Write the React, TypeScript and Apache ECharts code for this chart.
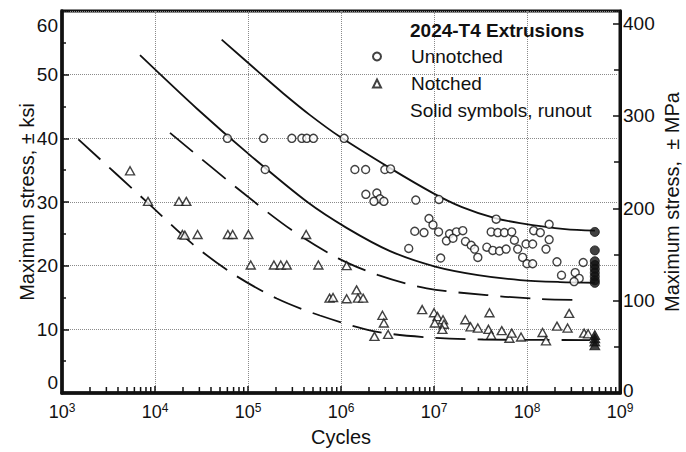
import React, { useEffect, useRef } from "react";
import * as echarts from "echarts";

// ---- data (cycles, ksi) ----
const decadeExponents = [3, 4, 5, 6, 7, 8, 9];
const minorMultipliers = [2, 3, 4, 5, 6, 7, 8, 9];

const unnotched: [number, number][] = [
  [6.0e4, 40.0], [1.47e5, 40.0], [2.96e5, 40.0], [3.79e5, 40.0], [4.29e5, 40.0], [5.05e5, 40.0], [1.08e6, 40.0],
  [1.53e5, 35.1], [1.41e6, 35.1], [1.84e6, 35.1], [2.96e6, 35.1], [3.41e6, 35.2],
  [1.85e6, 31.2], [2.43e6, 31.4], [2.62e6, 30.5], [2.26e6, 30.1], [2.89e6, 30.1],
  [6.37e6, 30.3], [1.13e7, 30.4], [8.83e6, 27.4], [9.75e6, 26.4],
  [6.21e6, 25.4], [7.81e6, 25.2], [1.12e7, 25.3], [5.35e6, 22.7], [1.18e7, 21.2],
  [1.36e7, 23.9], [1.47e7, 25.0], [1.74e7, 25.3], [2.04e7, 25.5], [1.6e7, 24.3], [2.18e7, 23.8],
  [2.51e7, 23.2], [2.73e7, 22.6], [2.96e7, 21.3],
  [4.66e7, 27.3], [4.12e7, 25.3], [4.85e7, 25.2], [5.71e7, 25.2], [6.85e7, 25.3], [7.32e7, 24.0],
  [3.7e7, 22.9], [4.29e7, 22.4], [5.06e7, 22.3], [5.96e7, 22.6], [7.94e7, 22.6],
  [8.98e7, 21.3], [1.0e8, 20.3], [1.15e8, 20.3], [9.77e7, 23.4], [1.15e8, 23.4], [1.18e8, 25.5],
  [1.39e8, 25.2], [1.73e8, 26.5], [1.73e8, 24.1], [1.6e8, 22.6],
  [2.1e8, 20.6], [2.35e8, 18.5], [3.3e8, 18.9], [3.64e8, 18.0], [3.21e8, 17.5], [4.02e8, 20.5],
];

const unnotchedRunout: [number, number][] = [
  [5.36e8, 25.3], [5.36e8, 22.4], [5.36e8, 20.7], [5.36e8, 20.1], [5.36e8, 19.5],
  [5.36e8, 18.9], [5.36e8, 18.3], [5.36e8, 17.7], [5.36e8, 17.3],
];

const notched: [number, number][] = [
  [5.39e3, 34.9], [8.41e3, 30.1], [1.81e4, 30.1], [2.17e4, 30.1],
  [1.97e4, 24.9], [2.09e4, 24.8], [2.87e4, 24.9], [6.08e4, 24.9], [6.84e4, 24.9], [1.01e5, 24.9], [4.22e5, 24.9],
  [1.07e5, 20.1], [1.9e5, 20.1], [2.25e5, 20.1], [2.61e5, 20.1], [5.71e5, 20.1], [1.15e6, 20.0],
  [7.53e5, 14.9], [8.21e5, 15.0], [1.15e6, 14.8], [1.47e6, 16.2], [1.52e6, 14.9], [1.73e6, 14.9],
  [2.79e6, 12.2], [2.89e6, 11.0], [2.29e6, 8.9], [3.21e6, 9.2],
  [7.46e6, 13.1], [1.0e7, 12.6], [1.09e7, 12.0], [1.25e7, 11.5], [1.02e7, 11.0], [1.28e7, 10.8], [1.23e7, 10.0],
  [2.17e7, 11.5], [2.47e7, 10.4], [2.96e7, 10.2], [3.95e7, 12.6], [3.85e7, 10.0], [4.12e7, 9.1],
  [5.35e7, 9.8], [6.47e7, 8.6], [6.85e7, 9.4], [8.63e7, 8.8],
  [1.47e8, 9.5], [1.6e8, 8.2], [2.1e8, 10.5], [2.73e8, 10.2], [2.84e8, 12.5], [4.11e8, 9.4], [4.54e8, 9.3],
];

const notchedRunout: [number, number][] = [
  [5.36e8, 9.1], [5.36e8, 8.6], [5.36e8, 8.1], [5.36e8, 7.5],
];

const unnotchedUpperCurve: [number, number][] = [
  [5.21e4, 55.5], [1.35e5, 50.2], [2.4e5, 47.05], [4.65e5, 43.65], [9.75e5, 40.24], [3.37e6, 35.32],
  [9.75e6, 31.4], [2.0e7, 29.2], [4.53e7, 27.47], [8.41e7, 26.69], [2.56e8, 25.75], [5.38e8, 25.5],
];

const unnotchedLowerCurve: [number, number][] = [
  [6.9e3, 53.06], [2.81e4, 44.69], [1.05e5, 37.36], [4.31e5, 30.03], [1.16e6, 25.9], [3.37e6, 22.29],
  [1.03e7, 19.86], [2.97e7, 18.52], [8.41e7, 17.74], [2.26e8, 17.43], [5.38e8, 17.32],
];

const notchedUpperCurve: [number, number][] = [
  [1.45e4, 40.86], [8.55e4, 31.6], [2.95e5, 25.59], [9.35e5, 21.15], [2.52e6, 18.52], [8.36e6, 16.44],
  [3.69e7, 15.38], [1.38e8, 14.76], [3.72e8, 14.6],
];

const notchedLowerCurve: [number, number][] = [
  [1.5e3, 39.83], [8.15e3, 30.03], [2.58e4, 23.31], [6.95e4, 18.68], [2.04e5, 14.84], [5.94e5, 12.17],
  [2.22e6, 9.73], [7.67e6, 8.79], [3.39e7, 8.4], [4.75e8, 8.32],
];

const KSI_TO_MPA = 6.894757;
const FONT = '"Liberation Sans", Arial, Helvetica, sans-serif';
const INK = "#111";

const minorTickCycles: [number, number][] = [];
decadeExponents.slice(0, -1).forEach((e) =>
  minorMultipliers.forEach((m) => minorTickCycles.push([m * Math.pow(10, e), 0]))
);

const dotted = { type: "dotted" as const, color: "#8a8a8a", width: 1 };

export default function App() {
  const ref = useRef<HTMLDivElement>(null);
  useEffect(() => {
    const chart = echarts.init(ref.current!, undefined, { renderer: "svg" });
    const option: any = {
      animation: false,
      backgroundColor: "#fff",
      textStyle: { fontFamily: FONT, color: INK },
      grid: {
        left: 62, right: 66, top: 11, bottom: 59,
        show: true, borderColor: INK, borderWidth: 3, backgroundColor: "transparent",
        containLabel: false, outerBoundsMode: "none",
      },
      title: [
        {
          text: "2024-T4 Extrusions", left: 410, top: 21, padding: 0,
          textStyle: { fontFamily: FONT, fontSize: 19, fontWeight: "bold", color: INK, lineHeight: 19 },
        },
        {
          text: "Solid symbols, runout", left: 410, top: 101, padding: 0,
          textStyle: { fontFamily: FONT, fontSize: 19, fontWeight: "normal", color: INK, lineHeight: 19 },
        },
      ],
      legend: {
        data: ["Unnotched", "Notched"],
        orient: "vertical", left: 372, top: 47, padding: 0, itemGap: 8,
        itemWidth: 8, itemHeight: 8, selectedMode: false,
        textStyle: { fontFamily: FONT, fontSize: 19, lineHeight: 19, color: INK, padding: [0, 0, 0, 25] },
      },
      xAxis: {
        type: "log", logBase: 10, min: 1e3, max: 1e9, position: "bottom",
        axisLine: { show: true, onZero: false, lineStyle: { color: INK, width: 3.5 } },
        axisTick: { show: true, inside: true, length: 7, lineStyle: { color: INK, width: 1.5 } },
        splitLine: { show: true, lineStyle: dotted },
        axisLabel: {
          margin: 9,
          formatter: (v: number) => `{b|10}{s|${Math.round(Math.log10(v))}}`,
          rich: {
            b: { fontFamily: FONT, fontSize: 18, lineHeight: 20, color: INK },
            s: { fontFamily: FONT, fontSize: 12, lineHeight: 12, color: INK, verticalAlign: "top" },
          },
        },
        name: "Cycles", nameLocation: "middle", nameGap: 34, nameMoveOverlap: false,
        nameTextStyle: { fontFamily: FONT, fontSize: 20, color: INK },
      },
      yAxis: [
        {
          type: "value", min: 0, max: 60, interval: 10, position: "left",
          axisLine: { show: true, lineStyle: { color: INK, width: 3.5 } },
          axisTick: { show: true, inside: true, length: 7, lineStyle: { color: INK, width: 1.5 } },
          minorTick: { show: true, splitNumber: 2, length: 4, lineStyle: { color: INK, width: 1.5 } },
          splitLine: { show: true, lineStyle: dotted },
          axisLabel: {
            margin: 4, fontFamily: FONT, fontSize: 19, color: INK,
            formatter: (v: number) => (v === 60 ? "{top|60}" : v === 0 ? "{bot|0}" : String(v)),
            rich: {
              top: { fontFamily: FONT, fontSize: 19, color: INK, padding: [28, 0, 0, 0] },
              bot: { fontFamily: FONT, fontSize: 19, color: INK, padding: [0, 0, 22, 0] },
            },
          },
          name: "Maximum stress, \u00b1 ksi", nameLocation: "middle", nameRotate: 90, nameGap: 25,
          nameMoveOverlap: false,
          nameTextStyle: { fontFamily: FONT, fontSize: 20, color: INK },
        },
        {
          type: "value", min: 0, max: 60 * KSI_TO_MPA, interval: 100, position: "right", alignTicks: false,
          axisLine: { show: true, lineStyle: { color: INK, width: 3 } },
          axisTick: { show: true, inside: true, length: 7, lineStyle: { color: INK, width: 1.5 } },
          minorTick: { show: true, splitNumber: 2, length: 6, lineStyle: { color: INK, width: 1.5 } },
          splitLine: { show: false },
          axisLabel: {
            margin: 3, fontFamily: FONT, fontSize: 19, color: INK,
            formatter: (v: number) =>
              Math.abs(v % 100) < 1e-6 ? (v === 0 ? "{bot|0}" : String(Math.round(v))) : "",
            rich: {
              bot: { fontFamily: FONT, fontSize: 19, color: INK, padding: [0, 0, 6, 0] },
            },
          },
          name: "Maximum stress,  \u00b1 MPa", nameLocation: "middle", nameRotate: 90, nameGap: 42,
          nameMoveOverlap: false,
          nameTextStyle: { fontFamily: FONT, fontSize: 20, color: INK },
        },
      ],
      series: [
        {
          type: "custom", name: "minor ticks", silent: true, clip: false, z: 5,
          data: minorTickCycles,
          renderItem: (_p: any, api: any) => {
            const pt = api.coord([api.value(0), 0]);
            return {
              type: "line",
              shape: { x1: pt[0], y1: pt[1], x2: pt[0], y2: pt[1] - 6 },
              style: { stroke: INK, lineWidth: 1.5 },
            };
          },
        },
        ...[
          { name: "Unnotched upper", data: unnotchedUpperCurve, dash: "solid" },
          { name: "Unnotched lower", data: unnotchedLowerCurve, dash: "solid" },
          { name: "Notched upper", data: notchedUpperCurve, dash: [30, 12] },
          { name: "Notched lower", data: notchedLowerCurve, dash: [30, 12] },
        ].map((c) => ({
          type: "line", name: c.name, data: c.data, smooth: 0.3,
          symbol: "none", z: 2,
          lineStyle: { color: INK, width: 1.8, type: c.dash },
        })),
        {
          type: "scatter", name: "Unnotched", data: unnotched, symbol: "circle", symbolSize: 8, z: 4,
          itemStyle: { color: "#fff", borderColor: INK, borderWidth: 1.4 },
        },
        {
          type: "scatter", name: "Notched", data: notched, symbol: "triangle", symbolSize: [9, 8], z: 4,
          itemStyle: { color: "#fff", borderColor: INK, borderWidth: 1.4 },
        },
        {
          type: "scatter", name: "Unnotched runout", data: unnotchedRunout, symbol: "circle", symbolSize: 9, z: 4,
          itemStyle: { color: INK, borderColor: INK, borderWidth: 1 },
        },
        {
          type: "scatter", name: "Notched runout", data: notchedRunout, symbol: "triangle", symbolSize: [10, 9], z: 4,
          itemStyle: { color: INK, borderColor: INK, borderWidth: 1 },
        },
      ],
    };
    chart.setOption(option);
    return () => chart.dispose();
  }, []);
  return (
    <div
      ref={ref}
      style={{ position: "absolute", left: 0, top: 0, width: 686, height: 452, background: "#fff" }}
    />
  );
}
